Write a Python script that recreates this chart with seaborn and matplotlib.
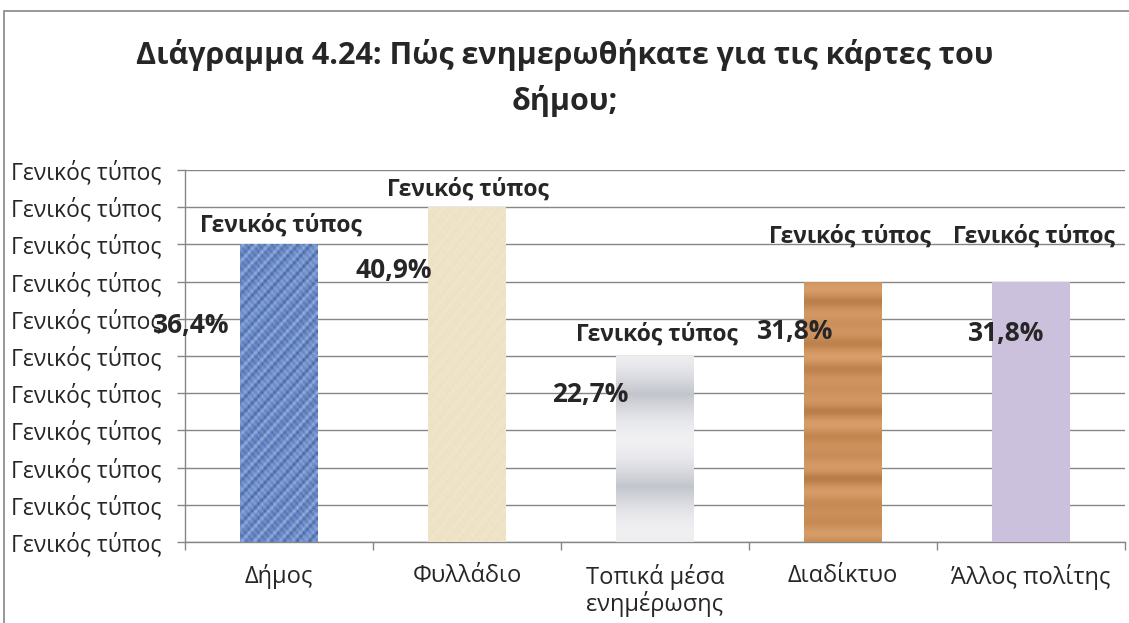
import numpy as np
import pandas as pd
import matplotlib
matplotlib.use("Agg")
import matplotlib.pyplot as plt
import matplotlib.patches as mpatches
import seaborn as sns

categories = ["Δήμος", "Φυλλάδιο", "Τοπικά μέσα\nενημέρωσης", "Διαδίκτυο", "Άλλος πολίτης"]
values = [36.4, 40.9, 22.7, 31.8, 31.8]
value_labels = ["36,4%", "40,9%", "22,7%", "31,8%", "31,8%"]
tick_label = "Γενικός τύπος"
title = "Διάγραμμα 4.24: Πώς ενημερωθήκατε για τις κάρτες του\nδήμου;"

colors = ["#5a7ab5", "#eadcc0", "#a9acb8", "#c48a55", "#cbc1dc"]
# label offsets in pixels from bar top centre: (name label, value label)
name_off = [(2, 6), (1, 6), (2, 10), (7, 33), (3, 33)]
value_off = [(-88, -81), (-73, -63), (-65, -38), (-48, -50), (-25, -52)]

sns.set_style("white")
plt.rcParams['font.family'] = ['Open Sans', 'DejaVu Sans']

df = pd.DataFrame({"cat": categories, "val": values})

fig = plt.figure(figsize=(11.29, 6.23), dpi=100)
ax = fig.add_axes([185 / 1129, 81 / 623, 940 / 1129, 372 / 623])

sns.barplot(data=df, x="cat", y="val", hue="cat", palette=colors, legend=False,
            width=0.41, ax=ax, zorder=3, linewidth=0, saturation=1)

step = 100 / 22
ax.set_ylim(0, 10 * step)
ax.set_xlim(-0.5, len(categories) - 0.5)
ax.set_yticks([k * step for k in range(11)])
ax.set_yticklabels([tick_label] * 11, fontsize=16.5)
ax.yaxis.grid(True, color="#868686", linewidth=1, zorder=0)
ax.set_axisbelow(True)
ax.tick_params(axis="y", length=6, color="#868686", width=1, pad=11, left=True)
ax.tick_params(axis="x", which="major", length=0, pad=16, labelsize=17)
for lbl in ax.get_xticklabels():
    lbl.set_linespacing(1.05)
ax.set_xticks(np.arange(-0.5, len(categories)), minor=True)
ax.tick_params(axis="x", which="minor", length=6, color="#868686", width=1, bottom=True)
ax.set_xlabel("")
ax.set_ylabel("")
for s in ["top", "right"]:
    ax.spines[s].set_visible(False)
for s in ["left", "bottom"]:
    ax.spines[s].set_color("#868686")
    ax.spines[s].set_linewidth(1)

# textures clipped to bars
bars = ax.patches
rows = np.linspace(0, 1, 200)[:, None]
gx, gy = np.meshgrid(np.arange(40), np.arange(200))
denim = 0.5 + 0.25 * np.sin(gx * 1.9) * np.cos(gy * 1.3) + 0.15 * np.sin(gy * 0.7 + gx)
grad = 0.5 + 0.45 * np.abs(np.cos(rows * np.pi * 2.0 + 0.3))
grad = np.repeat(grad, 2, axis=1)
wood = 0.6 + 0.25 * np.sin(rows * 60) * np.sin(rows * 13 + 1)
wood = np.repeat(wood, 2, axis=1)
textures = {
    0: (denim, matplotlib.colors.LinearSegmentedColormap.from_list("d", ["#2f4f8f", "#6d8cc8", "#b4c8ec"])),
    1: (denim * 0.3 + 0.5, matplotlib.colors.LinearSegmentedColormap.from_list("p", ["#d9c59c", "#ecdfc0", "#f6edd8"])),
    2: (grad, matplotlib.colors.LinearSegmentedColormap.from_list("g", ["#777d90", "#c3c5cd", "#f4f4f6"])),
    3: (wood, matplotlib.colors.LinearSegmentedColormap.from_list("w", ["#9a5e2c", "#c68a55", "#e0a772"])),
}
for i, (img, cmap) in textures.items():
    b = bars[i]
    x0, y0, w, h = b.get_x(), b.get_y(), b.get_width(), b.get_height()
    im = ax.imshow(img, cmap=cmap, extent=(x0, x0 + w, y0, y0 + h), aspect="auto",
                   zorder=4, interpolation="bilinear", vmin=0, vmax=1)
    im.set_clip_path(b)
ax.set_xlim(-0.5, len(categories) - 0.5)
ax.set_ylim(0, 10 * step)

for i, v in enumerate(values):
    ax.annotate(tick_label, (i, v), xytext=name_off[i], textcoords="offset pixels",
                ha="center", va="bottom", fontsize=16.5, fontweight="bold", zorder=6)
    ax.annotate(value_labels[i], (i, v), xytext=value_off[i], textcoords="offset pixels",
                ha="center", va="center", fontsize=19, fontweight="bold", zorder=6)

fig.text(565 / 1129, 1 - 78 / 623, title, ha="center", va="center", fontsize=22,
         fontweight="bold", linespacing=1.55)

frame = mpatches.Rectangle((4 / 1129, -0.1), 1.2, 1.1 - 11 / 623, transform=fig.transFigure,
                           fill=False, edgecolor="#868686", linewidth=1.2)
fig.patches.append(frame)

fig.savefig("out.png", dpi=100)
